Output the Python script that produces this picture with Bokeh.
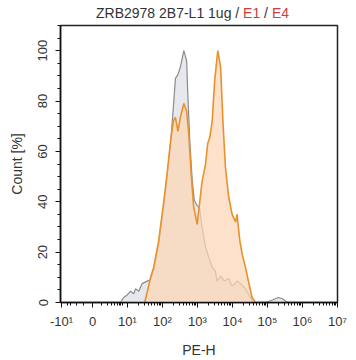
from bokeh.plotting import figure
from bokeh.models import Range1d, FixedTicker, SingleIntervalTicker, Div
from bokeh.layouts import column
from bokeh.embed import file_html
from bokeh.resources import INLINE
import math

# Display position on the biexponential axis (decades; 0 = value 0, k = 10^k)
orange_pos = [1.49, 1.57, 1.66, 1.75, 1.89, 2.04, 2.13, 2.23, 2.31, 2.37, 2.44, 2.51, 2.61, 2.69,
              2.75, 2.82, 2.89, 2.99, 3.04, 3.13, 3.23, 3.29, 3.35, 3.42, 3.49, 3.58, 3.66, 3.73,
              3.80, 3.89, 3.99, 4.09, 4.13, 4.21, 4.28, 4.37, 4.47, 4.56, 4.66]
orange_count = [0, 4.5, 10, 14, 24.5, 40.5, 51, 64, 72, 73.5, 68, 73.5, 79, 76,
                67, 51, 38, 31, 37, 48, 55, 63, 65.5, 72, 88, 100, 93.5, 71,
                53.5, 42, 35, 32, 35, 24.5, 19, 14, 7.5, 2, 0]

gray_pos = [0.80, 0.89, 0.99, 1.09, 1.18, 1.23, 1.32, 1.42, 1.56, 1.66, 1.75, 1.89, 2.04, 2.13,
            2.23, 2.31, 2.37, 2.44, 2.51, 2.61, 2.69, 2.72, 2.78, 2.85, 2.91, 2.99, 3.06, 3.13,
            3.23, 3.32, 3.42, 3.51, 3.56, 3.66, 3.77, 3.89, 3.99, 4.13, 4.23, 4.37, 4.51, 4.60,
            4.94, 5.14, 5.31, 5.43, 5.57]
gray_count = [0, 2, 3, 4.5, 3.5, 5.5, 4.5, 7.5, 8.5, 9, 13, 23, 39, 50,
              63, 77.5, 89, 90.5, 93.5, 100, 96, 84, 64, 48.5, 40.5, 38.5, 37.5, 30,
              22, 18, 14, 12.5, 8.5, 10.5, 8.5, 9.5, 6.5, 8.5, 7.5, 5.5, 2, 0,
              0, 1, 2, 1.5, 0]

x_tick_pos = [-0.886, 0, 1, 2, 3, 4, 5, 6, 7]
x_tick_labels = ["-10\u00b9", "0", "10\u00b9", "10\u00b2", "10\u00b3", "10\u2074", "10\u2075", "10\u2076", "10\u2077"]

title_main = "ZRB2978 2B7-L1 1ug / "
title_e1 = "E1"
title_sep = " / "
title_e4 = "E4"

FONT = "Liberation Sans"
TXT = "#333333"
RED = "#c8413b"

title_html = (
    '<div style="padding:5px 0 0 96px; font-family:\'Liberation Sans\'; font-size:14px; '
    'line-height:16px; color:#333333; white-space:nowrap;">'
    f'{title_main}<span style="color:{RED}">{title_e1}</span>{title_sep}'
    f'<span style="color:{RED}">{title_e4}</span></div>'
)
head = Div(text=title_html, width=356, height=20, margin=(0, 0, 0, 0))

p = figure(width=356, height=340, output_backend="svg", toolbar_location=None,
           x_range=Range1d(-0.914, 7.0), y_range=Range1d(0, 110),
           min_border_left=60, min_border_right=19, min_border_top=5, min_border_bottom=58,
           background_fill_color="white", border_fill_color="white", margin=(0, 0, 0, 0))
p.grid.visible = False
p.outline_line_color = "#222222"
p.outline_line_width = 1.5

# gray (control) histogram
p.varea(x=gray_pos, y1=0, y2=gray_count, fill_color="#e3e6eb", fill_alpha=0.9)
p.line(x=gray_pos, y=gray_count, line_color="#8c8c8c", line_width=1.2)
# orange histogram
p.varea(x=orange_pos, y1=0, y2=orange_count, fill_color="#fcd5b5", fill_alpha=0.72)
p.line(x=orange_pos, y=orange_count, line_color="#e8912d", line_width=1.6)

minor = []
for k in range(1, 7):
    for m in range(2, 10):
        minor.append(k + math.log10(m))
for m in range(2, 10):
    minor.append(math.log10(m) * 0.9)
for f in [0.3, 0.5, 0.7, 0.8]:
    minor.append(-0.886 * f)

xa = p.xaxis[0]
xa.ticker = FixedTicker(ticks=x_tick_pos, minor_ticks=minor)
xa.major_label_overrides = {t: l for t, l in zip(x_tick_pos, x_tick_labels)}
xa.axis_label = "PE-H"

ya = p.yaxis[0]
ya.ticker = SingleIntervalTicker(interval=20, num_minor_ticks=4)
ya.axis_label = "Count [%]"
ya.major_label_orientation = "vertical"

for ax in (xa, ya):
    ax.axis_line_color = "#111111"
    ax.axis_line_width = 1.5
    ax.major_tick_line_color = "#111111"
    ax.minor_tick_line_color = "#111111"
    ax.major_tick_out = 5
    ax.major_tick_in = 0
    ax.minor_tick_out = 3
    ax.minor_tick_in = 0
    ax.major_label_text_font = FONT
    ax.major_label_text_font_size = "13px"
    ax.major_label_text_color = TXT
    ax.axis_label_text_font = FONT
    ax.axis_label_text_font_size = "14px"
    ax.axis_label_text_font_style = "normal"
    ax.axis_label_text_color = TXT

xa.major_label_standoff = 6
xa.axis_label_standoff = 10
ya.major_label_standoff = 8
ya.axis_label_standoff = 11

layout = column(head, p, spacing=0, margin=(0, 0, 0, 0))
open("out.html", "w").write(file_html(layout, INLINE))
